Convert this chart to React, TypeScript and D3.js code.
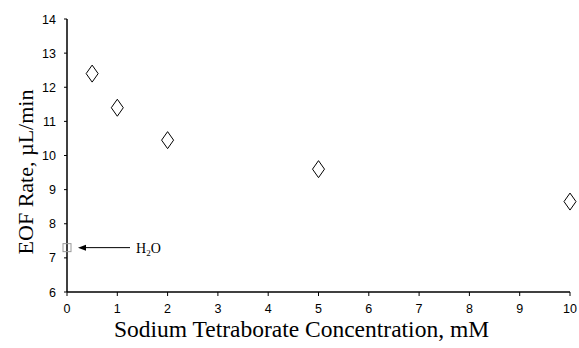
import React from 'react';
import * as d3 from 'd3';

const concentrations = [0.5, 1, 2, 5, 10];
const eofRates = [12.4, 11.4, 10.45, 9.6, 8.65];
const waterPoint = { x: 0, y: 7.3 };
const xTicks = [0, 1, 2, 3, 4, 5, 6, 7, 8, 9, 10];
const yTicks = [6, 7, 8, 9, 10, 11, 12, 13, 14];

const W = 579;
const H = 348;
const margin = { left: 67, right: 9, top: 19, bottom: 56 };

export default function App() {
  const x = d3.scaleLinear().domain([0, 10]).range([margin.left, W - margin.right]);
  const y = d3.scaleLinear().domain([6, 14]).range([H - margin.bottom, margin.top]);

  const diamond = (cx: number, cy: number) =>
    `M${cx},${cy - 8.5}L${cx + 6},${cy}L${cx},${cy + 8.5}L${cx - 6},${cy}Z`;

  const x0 = x(0);
  const y0 = y(6);
  const arrowY = y(waterPoint.y);

  return (
    <svg width={W} height={H} style={{ position: 'absolute', left: 0, top: 0, background: '#fff' }}>
      {/* axes */}
      <line x1={x0} x2={x(10)} y1={y0} y2={y0} stroke="#000" strokeWidth={1.5} />
      <line x1={x0} x2={x0} y1={y(14)} y2={y0} stroke="#000" strokeWidth={1.5} />
      {xTicks.map(t => (
        <g key={'x' + t}>
          <line x1={x(t)} x2={x(t)} y1={y0} y2={y0 + 4} stroke="#000" />
          <text x={x(t)} y={y0 + 21} textAnchor="middle" fontFamily="Liberation Sans, Arial" fontSize={12.5}>{t}</text>
        </g>
      ))}
      {yTicks.map(t => (
        <g key={'y' + t}>
          <line x1={x0 - 3} x2={x0} y1={y(t)} y2={y(t)} stroke="#000" />
          <text x={x0 - 11} y={y(t) + 4.5} textAnchor="end" fontFamily="Liberation Sans, Arial" fontSize={12.5}>{t}</text>
        </g>
      ))}
      {/* data */}
      {concentrations.map((c, i) => (
        <path key={c} d={diamond(x(c), y(eofRates[i]))} fill="none" stroke="#000" strokeWidth={1} />
      ))}
      <rect x={x(waterPoint.x) - 4} y={arrowY - 4} width={8} height={8} fill="none" stroke="#999" strokeWidth={1} />
      {/* arrow annotation */}
      <line x1={x0 + 63} x2={x0 + 16} y1={arrowY} y2={arrowY} stroke="#000" strokeWidth={1} />
      <path d={`M${x0 + 11},${arrowY}L${x0 + 19},${arrowY - 3}L${x0 + 19},${arrowY + 3}Z`} fill="#000" />
      <text x={x0 + 69} y={arrowY + 5} fontFamily="Liberation Serif, Times New Roman" fontSize={14}>
        H<tspan fontSize={9} dy={3}>2</tspan><tspan dy={-3}>O</tspan>
      </text>
      {/* titles */}
      <text x={301.5} y={337} textAnchor="middle" fontFamily="Liberation Serif, Times New Roman" fontSize={23.5}>
        Sodium Tetraborate Concentration, mM
      </text>
      <text transform={`translate(33,172) rotate(-90)`} textAnchor="middle" fontFamily="Liberation Serif, Times New Roman" fontSize={22}>
        EOF Rate, µL/min
      </text>
    </svg>
  );
}
